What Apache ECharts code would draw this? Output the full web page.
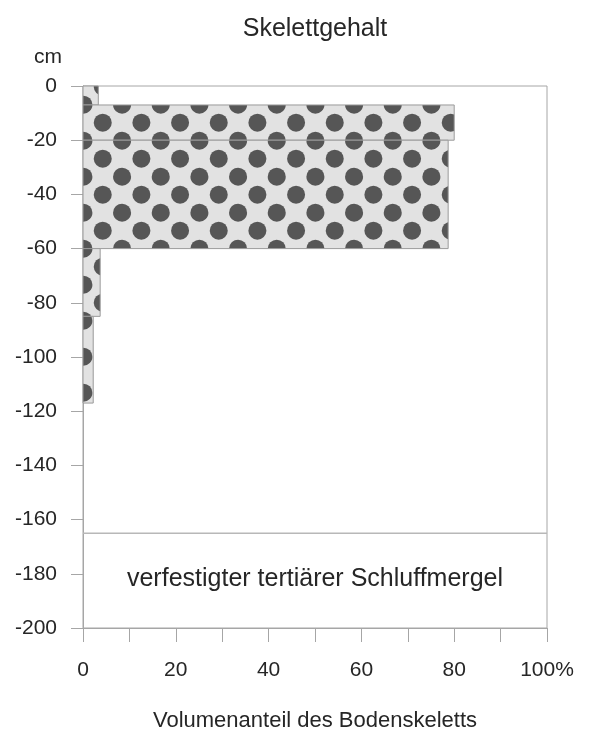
<!DOCTYPE html>
<html>
<head>
<meta charset="utf-8">
<script src="https://cdn.jsdelivr.net/npm/echarts@6/dist/echarts.min.js"></script>
<style>html,body{margin:0;padding:0;background:#fff}#c{width:592px;height:738px}</style>
</head>
<body>
<div id="c"></div>
<script>
// Depth intervals (cm, top and bottom) and skeleton share (%)
const layerTop = [0, -7, -20, -60, -85];
const layerBottom = [-7, -20, -60, -85, -117];
const skeletonShare = [3.3, 80, 78.7, 3.7, 2.2];
// bedrock boundary and label
const bedrockDepth = -165;
const bedrockLabelDepth = -182;
const bedrockLabel = 'verfestigter tertiärer Schluffmergel';
// axis ticks
const xTicks = [0, 20, 40, 60, 80, 100];
const yTicks = [0, -20, -40, -60, -80, -100, -120, -140, -160, -180, -200];

function makePattern() {
  const w = 116, h = 36;
  const cv = document.createElement('canvas');
  cv.width = w; cv.height = h;
  const ctx = cv.getContext('2d');
  ctx.fillStyle = '#e2e2e2';
  ctx.fillRect(0, 0, w, h);
  ctx.fillStyle = '#565656';
  const step = w / 3;
  const pts = [];
  for (let k = 0; k < 3; k++) {
    pts.push([25.4 + k * step, 14.7]);
    pts.push([6.07 + k * step, 32.7]);
  }
  for (const [px, py] of pts) {
    for (const dx of [-w, 0, w]) for (const dy of [-h, 0, h]) {
      ctx.beginPath();
      ctx.arc(px + dx, py + dy, 9, 0, Math.PI * 2);
      ctx.fill();
    }
  }
  return cv;
}
const pattern = { image: makePattern(), repeat: 'repeat' };

const layers = layerTop.map((t, i) => [t, layerBottom[i], skeletonShare[i]]);

const chart = echarts.init(document.getElementById('c'), null, { renderer: 'canvas' });
const axisColor = '#a6a6a6';
const textColor = '#262626';
const font = '"Liberation Sans", Arial, sans-serif';

chart.setOption({
  animation: false,
  textStyle: { fontFamily: font },
  title: [
    { text: 'Skelettgehalt', left: 310, top: 12, textAlign: 'center',
      textStyle: { fontSize: 25, fontWeight: 'normal', color: textColor, fontFamily: font } },
    { text: 'cm', left: 29, top: 42,
      textStyle: { fontSize: 21, fontWeight: 'normal', color: textColor, fontFamily: font } }
  ],
  grid: { left: 83, right: 45, top: 86, bottom: 110, show: true, borderColor: axisColor, borderWidth: 1 },
  xAxis: {
    type: 'value', min: 0, max: 100, interval: 10,
    name: 'Volumenanteil des Bodenskeletts', nameLocation: 'middle', nameGap: 82,
    nameTextStyle: { fontSize: 22, color: textColor, fontFamily: font },
    axisLine: { show: true, onZero: false, lineStyle: { color: axisColor } },
    axisTick: { show: true, length: 14, lineStyle: { color: axisColor } },
    splitLine: { show: false },
    axisLabel: {
      margin: 32, fontSize: 21, color: textColor, fontFamily: font,
      formatter: v => xTicks.includes(v) ? (v === 100 ? '100%' : String(v)) : ''
    }
  },
  yAxis: {
    type: 'value', min: -200, max: 0, interval: 20,
    axisLine: { show: true, onZero: false, lineStyle: { color: axisColor } },
    axisTick: { show: true, length: 12, lineStyle: { color: axisColor } },
    splitLine: { show: false },
    axisLabel: {
      margin: 26, fontSize: 21, color: textColor, fontFamily: font,
      formatter: v => yTicks.includes(v) ? String(v) : ''
    }
  },
  series: [
    {
      type: 'custom',
      data: layers,
      encode: { x: 2, y: [0, 1] },
      renderItem: (params, api) => {
        const p1 = api.coord([0, api.value(0)]);
        const p2 = api.coord([api.value(2), api.value(1)]);
        return {
          type: 'rect',
          shape: { x: p1[0], y: p1[1], width: p2[0] - p1[0], height: p2[1] - p1[1] },
          style: { fill: pattern, stroke: '#9a9a9a', lineWidth: 1 }
        };
      }
    },
    {
      type: 'line', symbol: 'none', silent: true,
      data: [[0, bedrockDepth], [100, bedrockDepth]],
      lineStyle: { color: '#b8b8b8', width: 1.5 }
    },
    {
      type: 'custom', silent: true,
      data: [[50, bedrockLabelDepth]],
      renderItem: (params, api) => {
        const p = api.coord([api.value(0), api.value(1)]);
        return {
          type: 'text',
          style: { x: p[0], y: p[1], text: bedrockLabel, align: 'center', verticalAlign: 'middle',
                   fontSize: 25, fill: textColor, fontFamily: font }
        };
      }
    }
  ]
});
</script>
</body>
</html>
